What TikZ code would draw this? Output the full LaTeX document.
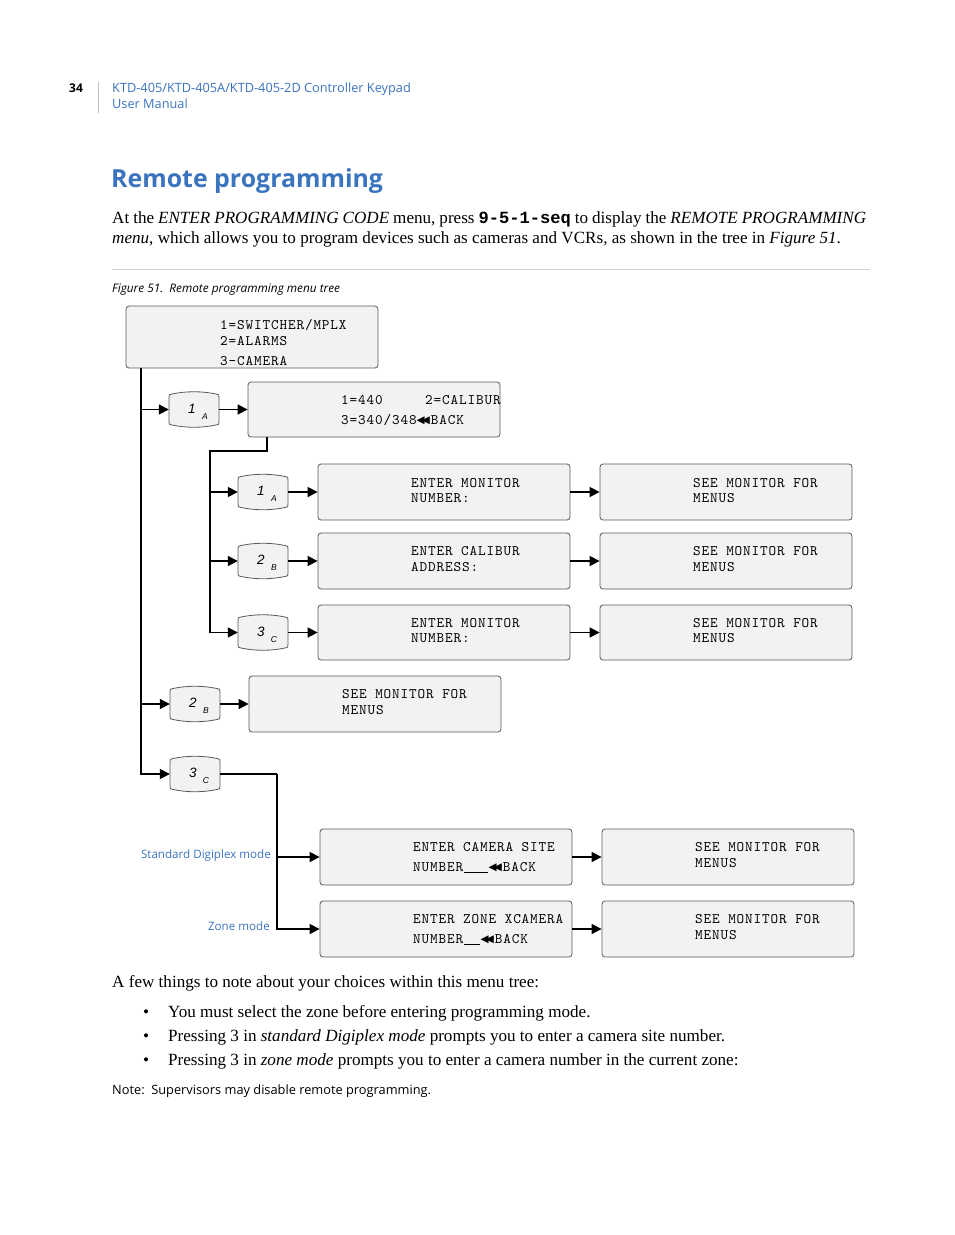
\documentclass[tikz,border=0pt]{standalone}
\usepackage{fontspec}
\setmainfont{Liberation Serif}
\newfontfamily\gefont{Open Sans}
\newfontfamily\monofont[LetterSpace=6]{lmmono10-regular.otf}
\newfontfamily\codefont{Liberation Mono}
\newfontfamily\symfont{DejaVu Sans}
\newfontfamily\keyfont{Liberation Sans}
\usetikzlibrary{arrows.meta,calc}
\definecolor{geblue}{HTML}{3B74BE}
\definecolor{lcdfill}{HTML}{F2F2F2}
\definecolor{lcdline}{HTML}{5A5A5A}
\tikzset{
 lcd/.style={draw=lcdline, line width=0.8pt, fill=lcdfill, rounded corners=3pt, minimum width=252pt, minimum height=56pt, inner sep=0pt},
 mtxt/.style={anchor=base west, inner sep=0pt, font=\monofont\fontsize{14.5}{14.5}\selectfont},
 keybox/.style={minimum width=50pt, minimum height=36pt, inner sep=0pt},
 keyshape/.style={draw=lcdline, line width=0.8pt, fill=lcdfill},
 wire/.style={line width=1.6pt, black},
 arr/.style={wire, -{Triangle[length=10pt,width=10pt]}},
 body/.style={anchor=base west, inner sep=0pt, font=\fontsize{17.1}{20}\selectfont},
 getxt/.style={anchor=base west, inner sep=0pt, text=geblue, font=\gefont\fontsize{12.75}{14}\selectfont},
 modelbl/.style={anchor=base east, inner sep=0pt, text=geblue, font=\gefont\fontsize{11.6}{13}\selectfont},
}
\newcommand\keycap[5]{%
 \node[keybox] (#1) at (#2,#3) {};
 \draw[keyshape, shift={(#1.center)}] (-22,-15.5) .. controls (-8,-18.5) and (8,-18.5) .. (22,-15.5) .. controls (25,-15) .. (25,-12) -- (25,12) .. controls (25,15) .. (22,15.5) .. controls (8,18.5) and (-8,18.5) .. (-22,15.5) .. controls (-25,15) .. (-25,12) -- (-25,-12) .. controls (-25,-15) .. cycle;
 \node[inner sep=0, font=\keyfont\itshape\fontsize{13.5}{13.5}\selectfont] at ($(#1.center)+(-2,-1)$) {#4};
 \node[inner sep=0, font=\keyfont\itshape\fontsize{8.5}{8.5}\selectfont] at ($(#1.center)+(11,7)$) {#5};
}
\newcommand\backsym{{\symfont\fontsize{10.5}{10}\selectfont\raisebox{0.3pt}{◀\kern-3pt◀}}\kern1pt}
\newcommand\blank[1]{\kern0.5pt\rule[-2pt]{#1}{0.6pt}\kern1pt}
\begin{document}
\begin{tikzpicture}[x=1pt,y=-1pt]
\useasboundingbox (0,0) rectangle (954,1235);
\fill[white] (0,0) rectangle (954,1235);
% header
\node[anchor=base west, inner sep=0, font=\gefont\bfseries\fontsize{12}{14}\selectfont] (pg) at (69,92) {34};
\draw[gray!50, line width=0.7pt] (98,82) -- (98,113);
\node[getxt] (h1) at (112,92) {KTD-405/KTD-405A/KTD-405-2D Controller Keypad};
\node[getxt] (h2) at (112,108) {User Manual};
% title
\node[anchor=base west, inner sep=0, text=geblue, font=\gefont\bfseries\fontsize{24.9}{30}\selectfont] (title) at (111,187) {Remote programming};
\node[body] (p1) at (112,223) {\makebox[754pt][s]{At the \textit{ENTER PROGRAMMING CODE} menu, press {\codefont\bfseries 9-5-1-seq} to display the \textit{REMOTE PROGRAMMING}}};
\node[body] (p2) at (112,243) {\textit{menu}, which allows you to program devices such as cameras and VCRs, as shown in the tree in \textit{Figure 51}.};
\draw[gray!35, line width=0.6pt] (112,269) -- (870,269);
\node[anchor=base west, inner sep=0, font=\gefont\itshape\fontsize{11.8}{13}\selectfont] (cap) at (112,292) {Figure 51.\ \ Remote programming menu tree};
% boxes
\node[lcd, minimum height=62pt] (top) at (252,337) {};
\node[mtxt] at (220,329) {1=SWITCHER/MPLX};
\node[mtxt] at (220,345) {2=ALARMS};
\node[mtxt] at (220,365) {3-CAMERA};
\node[lcd, minimum height=55pt] (b440) at (374,409.5) {};
\node[mtxt] at (341,404) {1=440\ \ \ \ \ 2=CALIBUR};
\node[mtxt] at (341,424) {3=340/348\backsym BACK};
\node[lcd] (e1) at (444,492) {};
\node[mtxt] at (411,487) {ENTER MONITOR};
\node[mtxt] at (411,502) {NUMBER:};
\node[lcd] (e2) at (444,561) {};
\node[mtxt] at (411,555) {ENTER CALIBUR};
\node[mtxt] at (411,571) {ADDRESS:};
\node[lcd, minimum height=55pt] (e3) at (444,632.5) {};
\node[mtxt] at (411,627) {ENTER MONITOR};
\node[mtxt] at (411,642) {NUMBER:};
\node[lcd] (r1) at (726,492) {};
\node[mtxt] at (693,487) {SEE MONITOR FOR};
\node[mtxt] at (693,502) {MENUS};
\node[lcd] (r2) at (726,561) {};
\node[mtxt] at (693,555) {SEE MONITOR FOR};
\node[mtxt] at (693,571) {MENUS};
\node[lcd, minimum height=55pt] (r3) at (726,632.5) {};
\node[mtxt] at (693,627) {SEE MONITOR FOR};
\node[mtxt] at (693,642) {MENUS};
\node[lcd] (b2) at (375,704) {};
\node[mtxt] at (342,698) {SEE MONITOR FOR};
\node[mtxt] at (342,714) {MENUS};
\node[lcd] (c1) at (446,857) {};
\node[mtxt] at (413,851) {ENTER CAMERA SITE};
\node[mtxt] at (413,871) {NUMBER\blank{24pt}\backsym BACK};
\node[lcd] (c2) at (446,929) {};
\node[mtxt] at (413,923) {ENTER ZONE XCAMERA};
\node[mtxt] at (413,943) {NUMBER\blank{16pt}\backsym BACK};
\node[lcd] (c1r) at (728,857) {};
\node[mtxt] at (695,851) {SEE MONITOR FOR};
\node[mtxt] at (695,867) {MENUS};
\node[lcd] (c2r) at (728,929) {};
\node[mtxt] at (695,923) {SEE MONITOR FOR};
\node[mtxt] at (695,939) {MENUS};
% keys
\keycap{k1}{194}{409.5}{1}{A}
\keycap{ka}{263}{492}{1}{A}
\keycap{kb}{263}{561}{2}{B}
\keycap{kc}{263}{632.5}{3}{C}
\keycap{k2}{195}{704}{2}{B}
\keycap{k3}{195}{774}{3}{C}
% connectors
\coordinate (trunk) at (141,368);
\draw[arr] (trunk) |- (k3.west);
\draw[arr] (trunk |- k1.west) -- (k1.west);
\draw[arr] (trunk |- k2.west) -- (k2.west);
\draw[arr] (k1.east) -- (b440.west);
\draw[arr] (k2.east) -- (b2.west);
\coordinate (s0) at (267,437);
\coordinate (s1) at (210,451);
\draw[arr] (s0) |- (s1) |- (kc.west);
\draw[arr] (s1 |- ka.west) -- (ka.west);
\draw[arr] (s1 |- kb.west) -- (kb.west);
\draw[arr] (ka.east) -- (e1.west);
\draw[arr] (kb.east) -- (e2.west);
\draw[arr] (kc.east) -- (e3.west);
\draw[arr] (e1.east) -- (r1.west);
\draw[arr] (e2.east) -- (r2.west);
\draw[arr] (e3.east) -- (r3.west);
\coordinate (m0) at (277,774);
\draw[wire] (k3.east) -- (m0);
\draw[arr] (m0) |- (c2.west);
\draw[arr] (m0 |- c1.west) -- (c1.west);
\draw[arr] (c1.east) -- (c1r.west);
\draw[arr] (c2.east) -- (c2r.west);
\node[modelbl] (lstd) at (271,858) {Standard Digiplex mode};
\node[modelbl] (lzone) at (270,930) {Zone mode};
% text below
\node[body] (p3) at (112,987) {A few things to note about your choices within this menu tree:};
\node[body] (bu1) at (143,1017) {•};
\node[body] (t1) at (168,1017) {You must select the zone before entering programming mode.};
\node[body] (bu2) at (143,1041) {•};
\node[body] (t2) at (168,1041) {Pressing 3 in \textit{standard Digiplex mode} prompts you to enter a camera site number.};
\node[body] (bu3) at (143,1065) {•};
\node[body] (t3) at (168,1065) {Pressing 3 in \textit{zone mode} prompts you to enter a camera number in the current zone:};
\node[anchor=base west, inner sep=0, font=\gefont\fontsize{12.8}{14}\selectfont] (note) at (112,1094) {Note:\ \ Supervisors may disable remote programming.};
\end{tikzpicture}
\end{document}
